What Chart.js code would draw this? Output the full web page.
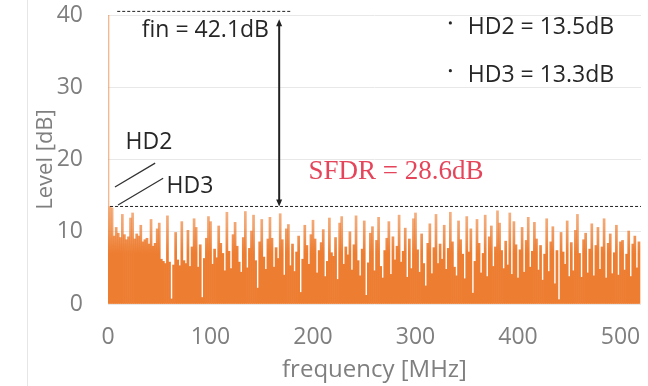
<!DOCTYPE html>
<html>
<head>
<meta charset="utf-8">
<script src="https://cdn.jsdelivr.net/npm/chart.js@4.4.1/dist/chart.umd.min.js"></script>
<style>
    html, body { margin: 0; padding: 0; background: #fff; }
    #wrap { position: relative; width: 648px; height: 386px; }
    #sep { position: absolute; left: 27px; top: 0; width: 1px; height: 386px; background: #e6e6e6; }
</style>
</head>
<body>
<div id="wrap">
    <div id="sep"></div>
    <canvas id="spectrumChart" width="648" height="386"></canvas>
</div>
<script>
// Spectrum bins, 2 MHz apart, starting at 0 MHz
const binStep = 2;
const levels = [
    42.1, 13.5, 13.3, 9.4, 10.6, 9.8, 9.2, 12.4, 9.6, 8.9, 9.3, 11.9, 12.6, 9.0, 9.7, 9.4, 10.9, 8.6, 8.9, 9.1,
    8.3, 11.7, 8.0, 8.4, 10.4, 11.2, 6.2, 5.9, 5.6, 12.2, 5.8, 0.7, 5.4, 9.9, 6.1, 5.3, 11.4, 6.0, 5.6, 10.2,
    5.2, 7.9, 11.8, 10.6, 5.1, 8.2, 0.9, 6.3, 9.1, 12.1, 11.4, 5.5, 7.6, 6.4, 10.8, 8.4, 7.0, 4.6, 12.7, 7.3,
    4.9, 9.6, 11.3, 8.0, 5.8, 4.4, 9.2, 12.8, 5.0, 7.7, 10.1, 12.3, 6.0, 2.2, 8.6, 11.7, 6.5, 4.8, 9.0, 12.0,
    9.1, 5.1, 7.8, 6.3, 12.5, 8.9, 4.0, 10.4, 11.0, 5.3, 8.3, 4.5, 7.2, 9.4, 1.6, 6.2, 10.9, 8.1, 5.5, 9.6,
    11.6, 9.0, 4.3, 7.4, 8.5, 10.3, 3.8, 5.9, 11.9, 7.1, 6.6, 9.2, 3.4, 11.2, 12.1, 5.5, 7.9, 6.8, 10.0, 4.7,
    8.2, 12.2, 6.0, 3.9, 7.6, 11.5, 1.2, 5.7, 9.8, 10.7, 4.6, 8.8, 12.0, 5.2, 3.6, 7.4, 9.1, 11.4, 4.1, 9.3,
    6.1, 8.0, 12.3, 5.8, 7.3, 10.5, 3.7, 9.0, 4.9, 11.8, 12.6, 7.5, 4.4, 9.7, 5.6, 2.5, 8.4, 11.1, 4.2, 7.8,
    12.4, 5.6, 8.3, 6.2, 10.9, 4.8, 7.7, 12.7, 8.6, 5.1, 3.9, 11.5, 8.9, 6.9, 3.5, 12.1, 7.2, 10.4, 1.5, 5.9,
    11.7, 8.4, 4.3, 7.0, 12.3, 3.8, 9.3, 10.8, 5.2, 7.9, 12.9, 11.2, 7.4, 4.9, 8.7, 5.4, 12.6, 4.1, 11.4, 8.2,
    3.6, 7.5, 10.6, 4.4, 8.8, 12.0, 5.1, 7.3, 11.3, 9.0, 4.7, 8.1, 3.3, 6.9, 11.8, 4.5, 8.6, 10.7, 2.8, 7.4,
    0.6, 9.9, 7.2, 5.5, 11.5, 3.8, 8.5, 4.6, 10.2, 12.4, 7.0, 3.7, 8.9, 9.8, 4.3, 7.6, 11.1, 3.9, 8.1, 10.6,
    4.8, 7.9, 11.8, 3.6, 8.4, 9.7, 4.2, 7.1, 10.9, 4.0, 8.6, 8.8, 4.7, 6.9, 10.1, 3.8, 8.3, 9.4, 5.0, 8.6,
];

// Measured values
const finLevel = 42.1;
const hdLevel = 13.5;
const hdNotes = ["HD2 = 13.5dB", "HD3 = 13.3dB"];

const grey = "#7f7f7f";
const ink = "#262626";

// Solid orange near the floor, fading on the thin spike tips
let barGradient = null;
function spectrumFill(context) {
    const { chart } = context;
    if (!chart.chartArea) return "#ED7D31";
    if (!barGradient) {
        const ys = chart.scales.y;
        const g = chart.ctx.createLinearGradient(0, ys.getPixelForValue(0), 0, ys.getPixelForValue(14));
        g.addColorStop(0, "rgba(237, 125, 49, 1)");
        g.addColorStop(0.5, "rgba(237, 125, 49, 1)");
        g.addColorStop(0.75, "rgba(237, 125, 49, 0.72)");
        g.addColorStop(1, "rgba(237, 125, 49, 0.55)");
        barGradient = g;
    }
    return barGradient;
}

// Annotation drawing (all positions in data units)
const chartNotes = {
    id: "chartNotes",
    afterDatasetsDraw(chart) {
        const { ctx } = chart;
        const xs = chart.scales.x;
        const ys = chart.scales.y;
        const px = (v) => xs.getPixelForValue(v);
        const py = (v) => ys.getPixelForValue(v);

        ctx.save();

        // dashed level lines
        ctx.strokeStyle = "#222";
        ctx.lineWidth = 1;
        ctx.setLineDash([3, 2]);
        ctx.beginPath();
        ctx.moveTo(px(9), py(40.5));
        ctx.lineTo(px(178), py(40.5));
        ctx.moveTo(px(2), py(hdLevel));
        ctx.lineTo(px(520), py(hdLevel));
        ctx.stroke();
        ctx.setLineDash([]);

        // SFDR arrow
        const ax = px(167);
        const aTop = py(39.4);
        const aBot = py(hdLevel);
        ctx.lineWidth = 2;
        ctx.beginPath();
        ctx.moveTo(ax, aTop + 4);
        ctx.lineTo(ax, aBot - 4);
        ctx.stroke();
        ctx.fillStyle = "#222";
        ctx.beginPath();
        ctx.moveTo(ax, aTop);
        ctx.lineTo(ax - 3, aTop + 7);
        ctx.lineTo(ax + 3, aTop + 7);
        ctx.closePath();
        ctx.fill();
        ctx.beginPath();
        ctx.moveTo(ax, aBot);
        ctx.lineTo(ax - 3, aBot - 7);
        ctx.lineTo(ax + 3, aBot - 7);
        ctx.closePath();
        ctx.fill();

        // HD leader lines
        ctx.lineWidth = 1.3;
        ctx.strokeStyle = "#333";
        ctx.beginPath();
        ctx.moveTo(px(46), py(19.5));
        ctx.lineTo(px(6.8), py(16.2));
        ctx.moveTo(px(53.8), py(17.4));
        ctx.lineTo(px(9.8), py(13.7));
        ctx.stroke();

        // texts
        ctx.textBaseline = "middle";
        ctx.fillStyle = ink;
        ctx.font = "23px 'Open Sans'";
        ctx.textAlign = "center";
        ctx.fillText(`fin = ${finLevel}dB`, px(95), py(37.9));
        ctx.fillText("HD2", px(40), py(22.3));
        ctx.fillText("HD3", px(80), py(16.3));

        ctx.textAlign = "left";
        ctx.fillText(hdNotes[0], px(351), py(38.3));
        ctx.fillText(hdNotes[1], px(351), py(31.7));
        ctx.beginPath();
        ctx.arc(px(334), py(38.9), 1.6, 0, Math.PI * 2);
        ctx.arc(px(334), py(32.3), 1.6, 0, Math.PI * 2);
        ctx.fill();

        ctx.fillStyle = "#e5455a";
        ctx.font = "27px 'Liberation Serif'";
        ctx.textAlign = "center";
        ctx.fillText(`SFDR = ${(finLevel - hdLevel).toFixed(1)}dB`, px(281), py(18.3));

        ctx.restore();
    },
};

const ctx = document.getElementById("spectrumChart").getContext("2d");

const data = {
    datasets: [
        {
            data: levels.map((lv, i) => ({ x: i * binStep, y: lv })),
            backgroundColor: spectrumFill,
            borderWidth: 0,
            barPercentage: 1,
            categoryPercentage: 1,
        },
    ],
};

const config = {
    type: "bar",
    data,
    options: {
        responsive: false,
        animation: false,
        layout: { padding: { left: 30, right: 7, top: 15, bottom: 1 } },
        plugins: {
            legend: { display: false },
            tooltip: { enabled: false },
        },
        scales: {
            x: {
                type: "linear",
                min: 0,
                max: 520,
                offset: false,
                grid: {
                    drawOnChartArea: false,
                    drawTicks: true,
                    tickLength: 20,
                    tickColor: "rgba(0,0,0,0)",
                },
                border: { display: false },
                ticks: {
                    stepSize: 100,
                    includeBounds: false,
                    maxRotation: 0,
                    padding: 0,
                    color: grey,
                    font: { family: "'Open Sans'", size: 23 },
                },
                title: {
                    display: true,
                    text: "frequency [MHz]",
                    color: grey,
                    padding: { top: 0, bottom: 0 },
                    font: { family: "'Open Sans'", size: 24 },
                },
                afterFit(scale) {
                    scale.height = 81;
                },
            },
            y: {
                min: 0,
                max: 40,
                grid: {
                    color: "#e8e8e8",
                    drawTicks: true,
                    tickLength: 25,
                    tickColor: "rgba(0,0,0,0)",
                },
                border: { display: false },
                ticks: {
                    stepSize: 10,
                    padding: 0,
                    color: grey,
                    font: { family: "'Open Sans'", size: 23 },
                },
                title: {
                    display: true,
                    text: "Level [dB]",
                    color: grey,
                    padding: { top: 3, bottom: 0 },
                    font: { family: "'Open Sans'", size: 22 },
                },
                afterFit(scale) {
                    scale.width = 78;
                },
            },
        },
    },
    plugins: [chartNotes],
};

new Chart(ctx, config);
</script>
</body>
</html>
